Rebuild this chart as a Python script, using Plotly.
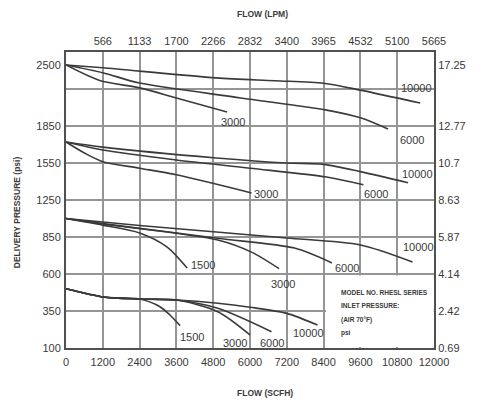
import numpy as np
import plotly.graph_objects as go

# ---------------- data ----------------
FLOW_TICKS = [0, 1200, 2400, 3600, 4800, 6000, 7200, 8400, 9600, 10800, 12000]
LPM_TICKS = [1200, 2400, 3600, 4800, 6000, 7200, 8400, 9600, 10800, 12000]
LPM_LABELS = ["566", "1133", "1700", "2266", "2832", "3400", "3965", "4532", "5100", "5665"]
PSI_TICKS = [100, 350, 600, 850, 1250, 1550, 1850, 2500]
MPA_LABELS = ["0.69", "2.42", "4.14", "5.87", "8.63", "10.7", "12.77", "17.25"]
# chart's own (non-linear) pressure scale: grid position of each psi tick
PSI_POS = [0, 1, 2, 3, 4, 5, 6, 7.65]

# inlet 2500 psi
g1_10000_flow = [0, 1200, 4900, 6800, 8400, 9600, 11550]
g1_10000_psi = [2500, 2470, 2362, 2332, 2305, 2232, 2094]
g1_6000_flow = [0, 1200, 2400, 5700, 8500, 9600, 10500]
g1_6000_psi = [2500, 2417, 2307, 2149, 2019, 1937, 1826]
g1_3000_flow = [0, 1100, 2400, 3600, 5250]
g1_3000_psi = [2500, 2335, 2256, 2149, 2000]

# inlet ~1720 psi
g2_10000_flow = [0, 1200, 4900, 7200, 8400, 9600, 11150]
g2_10000_psi = [1720, 1679, 1591, 1550, 1539, 1480, 1390]
g2_6000_flow = [0, 1200, 3600, 6000, 8500, 9700]
g2_6000_psi = [1720, 1655, 1574, 1508, 1436, 1373]
g2_3000_flow = [0, 600, 1200, 2400, 3600, 6050]
g2_3000_psi = [1720, 1631, 1561, 1508, 1454, 1307]

# inlet ~1050 psi
g3_10000_flow = [0, 2400, 4900, 7200, 9600, 11300]
g3_10000_psi = [1050, 975, 904, 843, 796, 681]
g3_6000_flow = [0, 1200, 4950, 7450, 8670]
g3_6000_psi = [1050, 995, 841, 775, 675]
g3_3000_flow = [0, 1200, 4950, 6050, 6950]
g3_3000_psi = [1050, 990, 830, 748, 636]
g3_1500_flow = [0, 1200, 2400, 3300, 3950]
g3_1500_psi = [1050, 978, 894, 782, 640]

# inlet 500 psi
g4_1500_flow = [0, 1200, 2400, 3064, 3390, 3720]
g4_1500_psi = [500, 445, 431, 379, 323, 251]
g4_3000_flow = [0, 1200, 2400, 3600, 4950, 6000]
g4_3000_psi = [500, 445, 431, 424, 345, 188]
g4_6000_flow = [0, 1200, 2400, 3600, 4950, 6700]
g4_6000_psi = [500, 445, 431, 424, 368, 210]
g4_10000_flow = [0, 1200, 2400, 3600, 4950, 6000, 7200, 8200]
g4_10000_psi = [500, 445, 431, 424, 402, 375, 334, 255]

CURVES = [
    ("10000", g1_10000_flow, g1_10000_psi, (-4, 15), "center"),
    ("6000", g1_6000_flow, g1_6000_psi, (24, -11), "center"),
    ("3000", g1_3000_flow, g1_3000_psi, (6, -10), "center"),
    ("10000", g2_10000_flow, g2_10000_psi, (10, 9), "center"),
    ("6000", g2_6000_flow, g2_6000_psi, (13, -9), "center"),
    ("3000", g2_3000_flow, g2_3000_psi, (0, -1), "left"),
    ("10000", g3_10000_flow, g3_10000_psi, (6, 15), "center"),
    ("6000", g3_6000_flow, g3_6000_psi, (15, -5), "center"),
    ("3000", g3_3000_flow, g3_3000_psi, (4, -15), "center"),
    ("1500", g3_1500_flow, g3_1500_psi, (2, 3), "left"),
    ("1500", g4_1500_flow, g4_1500_psi, (12, -11), "center"),
    ("3000", g4_3000_flow, g4_3000_psi, (-15, -8), "center"),
    ("6000", g4_6000_flow, g4_6000_psi, (1, -11), "center"),
    ("10000", g4_10000_flow, g4_10000_psi, (-9, -8), "center"),
]


def ypos(psi):
    return np.interp(psi, PSI_TICKS, PSI_POS)


FONT_NUM = "Liberation Sans, Arial, sans-serif"
FONT_BOLD = "Liberation Sans, Arial, sans-serif"
TXT = "#3a3a3a"
GRID = "#959595"
FRAME = "#505050"
LINE = "#3a3a3a"
NUM_SIZE = 11

fig = go.Figure()
for label, fl, ps, off, anchor in CURVES:
    yy = ypos(ps)
    fig.add_trace(go.Scatter(x=fl, y=yy, mode="lines",
                             line=dict(color=LINE, width=1.6, shape="spline", smoothing=0.8),
                             hoverinfo="skip", showlegend=False))
    fig.add_annotation(x=fl[-1], y=yy[-1], text=label, showarrow=False,
                       xanchor=anchor, yanchor="middle", xshift=off[0], yshift=off[1],
                       font=dict(family=FONT_NUM, size=NUM_SIZE, color=TXT))

# invisible trace to carry the secondary (top/right) axes
fig.add_trace(go.Scatter(x=[0, 12000], y=[0, 8], xaxis="x2", yaxis="y2", mode="lines",
                         line=dict(width=0, color="rgba(0,0,0,0)"), hoverinfo="skip",
                         showlegend=False))

# blank panel for the model note box
fig.add_shape(type="rect", xref="x", yref="y", x0=8480, x1=11990, y0=0.03, y1=1.96,
              fillcolor="white", line=dict(width=0), layer="between")

notes = [("MODEL NO. RHESL SERIES", 1.49), ("INLET PRESSURE:", 1.16),
         ("(AIR 70°F)", 0.76), ("psi", 0.41)]
for t, yv in notes:
    fig.add_annotation(x=8900, y=yv, text="<b>" + t + "</b>", showarrow=False, xanchor="left",
                       yanchor="middle", font=dict(family=FONT_BOLD, size=6.5, color=TXT))

fig.add_annotation(xref="paper", yref="paper", x=0.533, y=1.128, text="<b>FLOW (LPM)</b>",
                   showarrow=False, xanchor="center", yanchor="middle",
                   font=dict(family=FONT_BOLD, size=8.5, color=TXT))
fig.add_annotation(xref="paper", yref="paper", x=0.542, y=-0.152, text="<b>FLOW (SCFH)</b>",
                   showarrow=False, xanchor="center", yanchor="middle",
                   font=dict(family=FONT_BOLD, size=8.5, color=TXT))
fig.add_annotation(xref="paper", yref="paper", x=-0.133, y=0.459,
                   text="<b>DELIVERY PRESSURE (psi)</b>", textangle=-90,
                   showarrow=False, xanchor="center", yanchor="middle",
                   font=dict(family=FONT_BOLD, size=8.5, color=TXT))


def axis_style(ticklen):
    return dict(showline=True, linecolor=FRAME, linewidth=2, mirror=False,
                zeroline=False, ticks="outside", ticklen=ticklen, automargin=False,
                tickangle=0, tickcolor="rgba(0,0,0,0)",
                tickfont=dict(family=FONT_NUM, size=NUM_SIZE, color=TXT))


fig.update_layout(
    width=479, height=402,
    margin=dict(l=58, r=53, t=44, b=62),
    paper_bgcolor="white", plot_bgcolor="white",
    xaxis=dict(range=[0, 12000], tickvals=FLOW_TICKS, ticktext=[str(v) for v in FLOW_TICKS],
               showgrid=True, gridcolor=GRID, gridwidth=1.5, **axis_style(3)),
    yaxis=dict(range=[0, 8], tickvals=PSI_POS, ticktext=[str(v) for v in PSI_TICKS],
               showgrid=False,
               minor=dict(tickvals=[1, 2, 3, 4, 5, 6, 7], showgrid=True, gridcolor=GRID,
                          gridwidth=1.5, ticks=""),
               **axis_style(1)),
    xaxis2=dict(range=[0, 12000], overlaying="x", side="top", tickvals=LPM_TICKS,
                ticktext=LPM_LABELS, showgrid=False, **axis_style(1)),
    yaxis2=dict(range=[0, 8], overlaying="y", side="right", tickvals=PSI_POS,
                ticktext=MPA_LABELS, showgrid=False, **axis_style(0)),
)

fig.write_html("out.html")
